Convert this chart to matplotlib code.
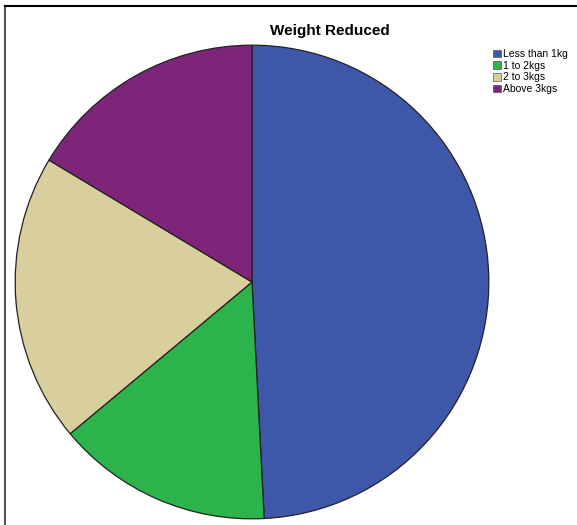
import matplotlib.pyplot as plt
from matplotlib.lines import Line2D

plt.rcParams['font.family'] = ['Liberation Sans', 'DejaVu Sans']

labels = ['Less than 1kg', '1 to 2kgs', '2 to 3kgs', 'Above 3kgs']
counts = [30, 9, 12, 10]
colors = ['#3f57a9', '#2db34b', '#d8cf9c', '#7d2679']

W, H = 577, 525
fig = plt.figure(figsize=(W / 100, H / 100), dpi=100)

# pie centre ~ (252, 282) px, radius ~ 238 px
cx, cy, r = 252, 282, 238
ax = fig.add_axes([(cx - r) / W, (H - cy - r) / H, 2 * r / W, 2 * r / H])
wedges, _ = ax.pie(counts, colors=colors, startangle=90, counterclock=False,
                   wedgeprops=dict(edgecolor='#222222', linewidth=0.9))
ax.set_xlim(-1.005, 1.005)
ax.set_ylim(-1.005, 1.005)
ax.set_aspect('equal')

fig.text(330 / W, 1 - 31 / H, 'Weight Reduced', ha='center', va='center',
         fontsize=11, fontweight='bold')

leg = fig.legend(wedges, labels, loc='upper left', bbox_to_anchor=(486 / W, 1 - 42 / H),
                 frameon=False, fontsize=7.5, handlelength=0.75, handleheight=0.75,
                 handletextpad=0.2, labelspacing=0.15, borderpad=0.2)
for h in leg.legend_handles:
    h.set_edgecolor('#555555')
    h.set_linewidth(0.5)

# frame lines at left and top
fig.add_artist(Line2D([5 / W, 5 / W], [0, 1 - 6 / H], transform=fig.transFigure,
                      color='#555555', linewidth=1.5))
fig.add_artist(Line2D([5 / W, 1], [1 - 6 / H, 1 - 6 / H], transform=fig.transFigure,
                      color='black', linewidth=1.5))

fig.savefig('out.png', dpi=100)
